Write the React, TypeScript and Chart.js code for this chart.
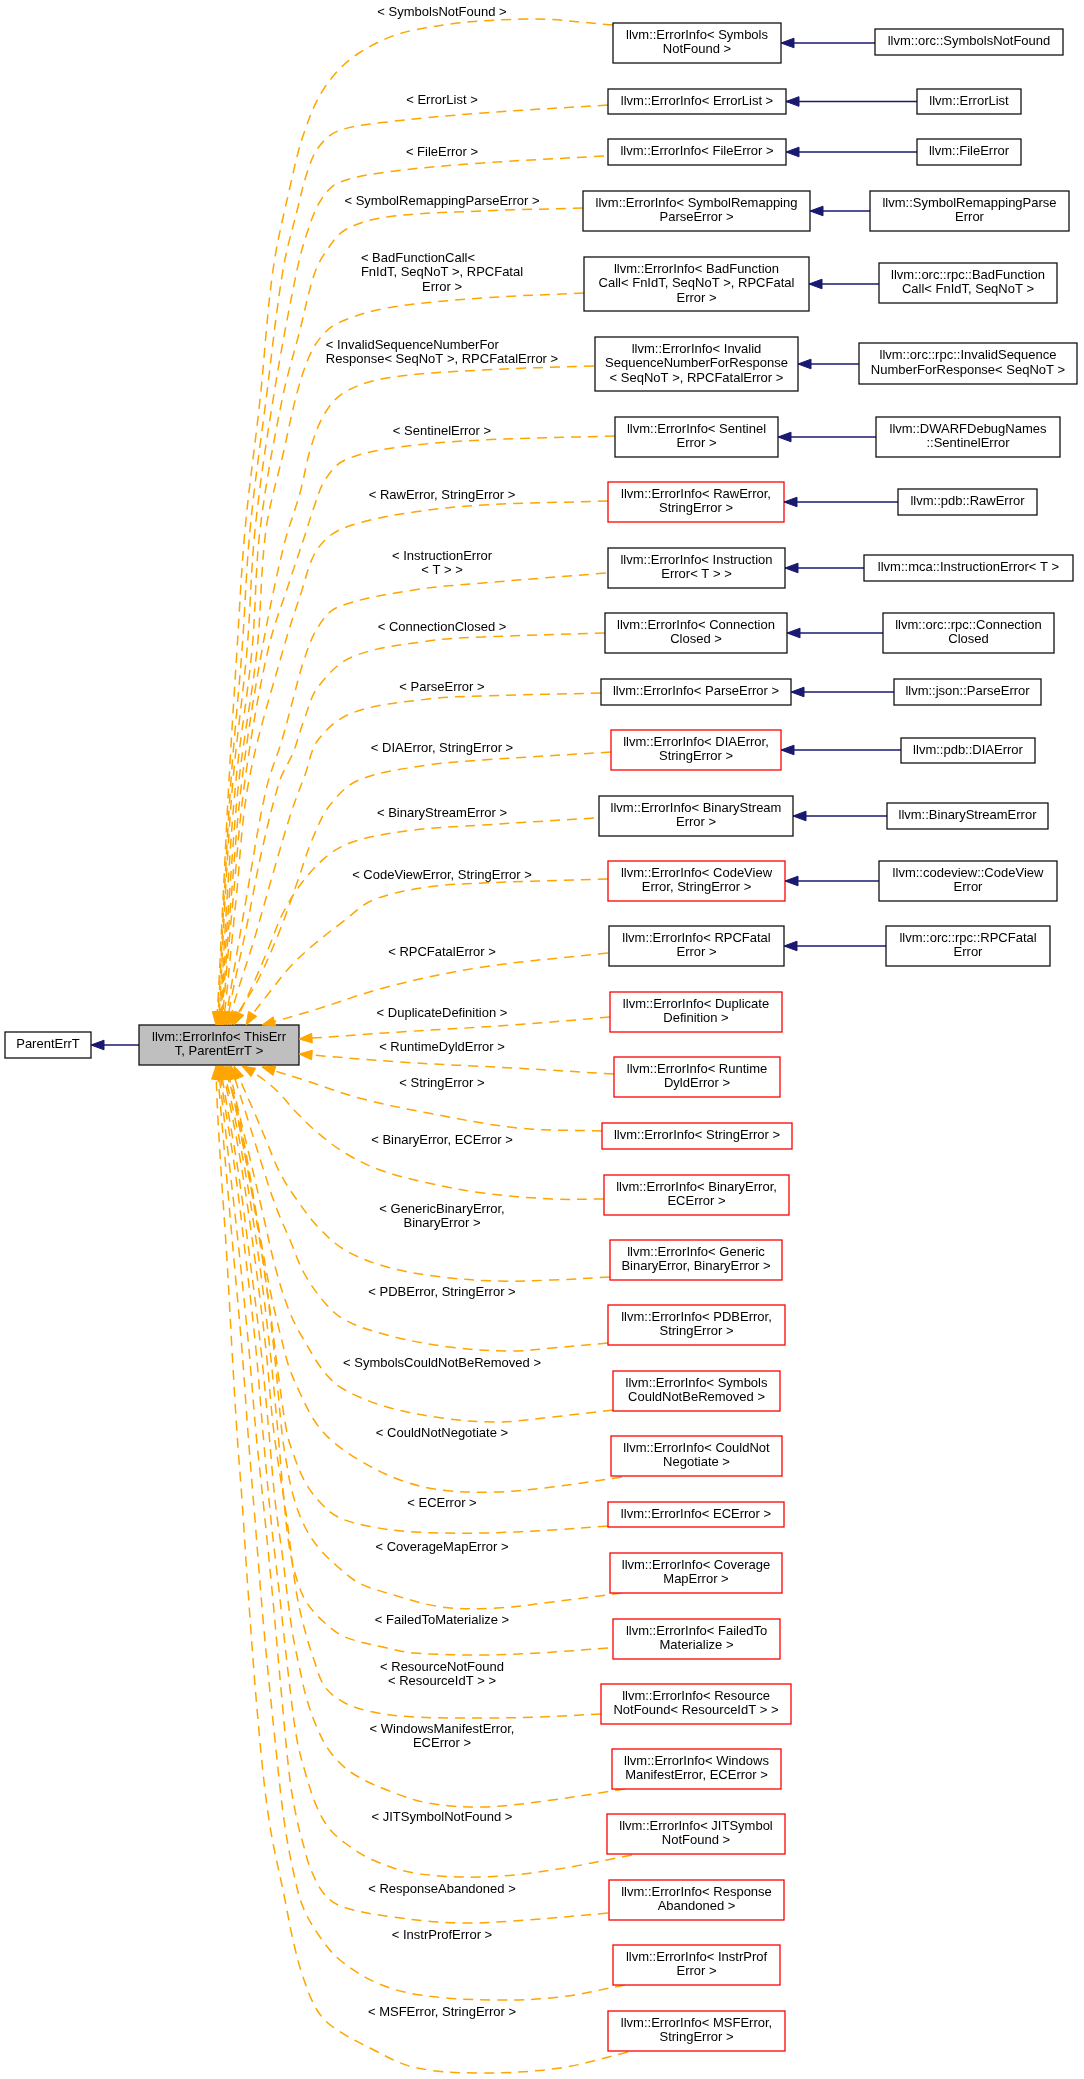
import React, { useEffect, useRef } from "react";
import { Chart, registerables } from "chart.js";

Chart.register(...registerables);

// ---- Diagram content (doxygen inheritance graph) ----
const centerText: string[] = ["llvm::ErrorInfo< ThisErr", "T, ParentErrT >"];
const centerRect: number[] = [139, 1025, 299, 1065];
const parentText: string[] = ["ParentErrT"];
const parentRect: number[] = [5, 1032, 91, 1058];

const middleText: string[][] = [
  ["llvm::ErrorInfo< Symbols", "NotFound >"],
  ["llvm::ErrorInfo< ErrorList >"],
  ["llvm::ErrorInfo< FileError >"],
  ["llvm::ErrorInfo< SymbolRemapping", "ParseError >"],
  ["llvm::ErrorInfo< BadFunction", "Call< FnIdT, SeqNoT >, RPCFatal", "Error >"],
  ["llvm::ErrorInfo< Invalid", "SequenceNumberForResponse", "< SeqNoT >, RPCFatalError >"],
  ["llvm::ErrorInfo< Sentinel", "Error >"],
  ["llvm::ErrorInfo< RawError,", "StringError >"],
  ["llvm::ErrorInfo< Instruction", "Error< T > >"],
  ["llvm::ErrorInfo< Connection", "Closed >"],
  ["llvm::ErrorInfo< ParseError >"],
  ["llvm::ErrorInfo< DIAError,", "StringError >"],
  ["llvm::ErrorInfo< BinaryStream", "Error >"],
  ["llvm::ErrorInfo< CodeView", "Error, StringError >"],
  ["llvm::ErrorInfo< RPCFatal", "Error >"],
  ["llvm::ErrorInfo< Duplicate", "Definition >"],
  ["llvm::ErrorInfo< Runtime", "DyldError >"],
  ["llvm::ErrorInfo< StringError >"],
  ["llvm::ErrorInfo< BinaryError,", "ECError >"],
  ["llvm::ErrorInfo< Generic", "BinaryError, BinaryError >"],
  ["llvm::ErrorInfo< PDBError,", "StringError >"],
  ["llvm::ErrorInfo< Symbols", "CouldNotBeRemoved >"],
  ["llvm::ErrorInfo< CouldNot", "Negotiate >"],
  ["llvm::ErrorInfo< ECError >"],
  ["llvm::ErrorInfo< Coverage", "MapError >"],
  ["llvm::ErrorInfo< FailedTo", "Materialize >"],
  ["llvm::ErrorInfo< Resource", "NotFound< ResourceIdT > >"],
  ["llvm::ErrorInfo< Windows", "ManifestError, ECError >"],
  ["llvm::ErrorInfo< JITSymbol", "NotFound >"],
  ["llvm::ErrorInfo< Response", "Abandoned >"],
  ["llvm::ErrorInfo< InstrProf", "Error >"],
  ["llvm::ErrorInfo< MSFError,", "StringError >"],
];

const middleRect: number[][] = [
  [613, 23, 781, 63],
  [608, 89, 786, 114],
  [608, 139, 786, 165],
  [583, 191, 810, 231],
  [584, 257, 809, 311],
  [595, 337, 798, 391],
  [615, 417, 778, 457],
  [608, 482, 784, 522],
  [608, 548, 785, 588],
  [605, 613, 787, 653],
  [601, 679, 791, 705],
  [611, 730, 781, 770],
  [599, 796, 793, 836],
  [608, 861, 785, 901],
  [609, 926, 784, 966],
  [610, 992, 782, 1032],
  [614, 1057, 780, 1097],
  [602, 1123, 792, 1149],
  [604, 1175, 789, 1215],
  [610, 1240, 782, 1280],
  [608, 1305, 785, 1345],
  [613, 1371, 780, 1411],
  [611, 1436, 782, 1476],
  [608, 1502, 784, 1527],
  [610, 1553, 782, 1593],
  [613, 1619, 780, 1659],
  [601, 1684, 791, 1724],
  [612, 1749, 781, 1789],
  [607, 1814, 785, 1854],
  [609, 1880, 784, 1920],
  [613, 1945, 780, 1985],
  [608, 2011, 785, 2051],
];

const middleRed: boolean[] = [
  false, false, false, false, false, false, false, true, false, false, false, true,
  false, true, false, true, true, true, true, true, true, true, true, true, true,
  true, true, true, true, true, true, true,
];

const edgeLabel: string[][] = [
  ["< SymbolsNotFound >"],
  ["< ErrorList >"],
  ["< FileError >"],
  ["< SymbolRemappingParseError >"],
  ["< BadFunctionCall<", "FnIdT, SeqNoT >, RPCFatal", "Error >"],
  ["< InvalidSequenceNumberFor", "Response< SeqNoT >, RPCFatalError >"],
  ["< SentinelError >"],
  ["< RawError, StringError >"],
  ["< InstructionError", "< T > >"],
  ["< ConnectionClosed >"],
  ["< ParseError >"],
  ["< DIAError, StringError >"],
  ["< BinaryStreamError >"],
  ["< CodeViewError, StringError >"],
  ["< RPCFatalError >"],
  ["< DuplicateDefinition >"],
  ["< RuntimeDyldError >"],
  ["< StringError >"],
  ["< BinaryError, ECError >"],
  ["< GenericBinaryError,", "BinaryError >"],
  ["< PDBError, StringError >"],
  ["< SymbolsCouldNotBeRemoved >"],
  ["< CouldNotNegotiate >"],
  ["< ECError >"],
  ["< CoverageMapError >"],
  ["< FailedToMaterialize >"],
  ["< ResourceNotFound", "< ResourceIdT > >"],
  ["< WindowsManifestError,", "ECError >"],
  ["< JITSymbolNotFound >"],
  ["< ResponseAbandoned >"],
  ["< InstrProfError >"],
  ["< MSFError, StringError >"],
];

const labelPos: number[][] = [
  [442, 12], [442, 100], [442, 152], [442, 201], [442, 258], [442, 345], [442, 431],
  [442, 495], [442, 556], [442, 627], [442, 687], [442, 748], [442, 813], [442, 875],
  [442, 952], [442, 1013], [442, 1047], [442, 1083], [442, 1140], [442, 1209], [442, 1292],
  [442, 1363], [442, 1433], [442, 1503], [442, 1547], [442, 1620], [442, 1667], [442, 1729],
  [442, 1817], [442, 1889], [442, 1935], [442, 2012],
];
const labelFirstLeft: number[] = [4, 5];

const rightText: string[][] = [
  ["llvm::orc::SymbolsNotFound"],
  ["llvm::ErrorList"],
  ["llvm::FileError"],
  ["llvm::SymbolRemappingParse", "Error"],
  ["llvm::orc::rpc::BadFunction", "Call< FnIdT, SeqNoT >"],
  ["llvm::orc::rpc::InvalidSequence", "NumberForResponse< SeqNoT >"],
  ["llvm::DWARFDebugNames", "::SentinelError"],
  ["llvm::pdb::RawError"],
  ["llvm::mca::InstructionError< T >"],
  ["llvm::orc::rpc::Connection", "Closed"],
  ["llvm::json::ParseError"],
  ["llvm::pdb::DIAError"],
  ["llvm::BinaryStreamError"],
  ["llvm::codeview::CodeView", "Error"],
  ["llvm::orc::rpc::RPCFatal", "Error"],
];

const rightRect: number[][] = [
  [875, 29, 1063, 55],
  [917, 89, 1021, 114],
  [917, 139, 1021, 165],
  [870, 191, 1069, 231],
  [879, 263, 1057, 303],
  [859, 343, 1077, 384],
  [876, 417, 1060, 457],
  [898, 489, 1037, 515],
  [864, 555, 1073, 581],
  [883, 613, 1054, 653],
  [894, 679, 1041, 705],
  [901, 738, 1035, 763],
  [887, 803, 1048, 829],
  [879, 861, 1057, 901],
  [886, 926, 1050, 966],
];

// waypoints of the dashed inheritance edges (box -> central node)
const edgePaths: number[][][] = [
  [[613,25],[525,19],[414,30],[359,53],[325,87],[304,133],[290,187],[273,270],[260,400],[245,530],[237,650],[229,780],[223,900],[218,1000],[216,1025]],
  [[608,105],[483,113],[387,122],[338,131],[318,148],[307,173],[298,207],[283,270],[266,400],[250,530],[242,650],[231,780],[224,900],[219,1000],[217,1025]],
  [[604,156],[483,163],[387,172],[338,183],[321,200],[309,227],[297,270],[273,400],[255,530],[247,650],[233,780],[225,900],[220,1000],[218,1025]],
  [[583,208],[483,211],[387,217],[345,230],[325,253],[314,275],[300,330],[282,400],[260,530],[252,650],[236,780],[227,900],[221,1000],[219,1025]],
  [[584,293],[483,298],[387,308],[338,323],[321,337],[309,357],[297,393],[284,450],[266,530],[257,650],[239,780],[229,900],[222,1000],[220,1025]],
  [[594,366],[483,370],[387,378],[345,392],[325,413],[311,447],[300,493],[284,545],[262,650],[242,780],[231,900],[223,1000],[221,1025]],
  [[615,436],[483,440],[400,447],[345,460],[325,480],[314,507],[305,535],[290,580],[268,650],[245,780],[233,900],[224,1000],[222,1025]],
  [[608,501],[483,505],[414,512],[359,523],[331,535],[314,555],[302,590],[283,650],[249,780],[236,900],[226,1000],[223,1025]],
  [[606,573],[483,583],[414,590],[338,607],[318,627],[304,660],[291,707],[282,740],[266,790],[246,900],[229,1000],[225,1025]],
  [[605,633],[483,637],[428,641],[352,657],[318,687],[304,720],[293,753],[280,780],[262,850],[248,920],[231,1000],[227,1025]],
  [[601,693],[483,696],[428,699],[352,713],[318,740],[305,775],[292,810],[274,870],[254,940],[235,1000],[229,1025]],
  [[611,752],[483,760],[428,765],[359,780],[330,805],[312,840],[298,880],[280,930],[258,980],[240,1010],[231,1025]],
  [[594,818],[483,825],[414,830],[359,840],[331,853],[304,880],[283,913],[269,947],[255,980],[242,1008],[234,1025]],
  [[608,879],[483,883],[428,887],[373,900],[345,920],[311,947],[290,967],[269,993],[252,1015],[246,1025]],
  [[608,953],[483,967],[387,987],[311,1011],[262,1025]],
  [[610,1017],[513,1025],[400,1032],[299,1039]],
  [[614,1074],[513,1068],[400,1062],[299,1054]],
  [[602,1131],[518,1128],[428,1113],[359,1098],[304,1080],[262,1067]],
  [[604,1199],[552,1199],[483,1193],[428,1183],[380,1170],[345,1153],[318,1133],[297,1113],[276,1090],[256,1074],[242,1066]],
  [[610,1277],[552,1280],[497,1281],[442,1277],[387,1267],[345,1250],[318,1227],[297,1200],[280,1173],[266,1140],[252,1107],[240,1080],[234,1066]],
  [[608,1343],[552,1348],[511,1351],[449,1347],[387,1335],[345,1320],[325,1303],[304,1273],[290,1240],[276,1207],[262,1165],[248,1120],[236,1082],[231,1066]],
  [[613,1410],[552,1417],[497,1422],[442,1418],[387,1407],[345,1390],[325,1373],[304,1340],[290,1313],[276,1270],[262,1210],[248,1150],[236,1100],[229,1066]],
  [[622,1477],[552,1487],[497,1492],[442,1490],[400,1480],[359,1460],[331,1440],[314,1420],[300,1393],[289,1367],[280,1333],[270,1290],[259,1230],[246,1160],[234,1100],[227,1066]],
  [[608,1526],[552,1530],[483,1533],[414,1532],[373,1527],[338,1517],[318,1500],[304,1480],[293,1453],[287,1433],[279,1380],[270,1310],[258,1230],[246,1160],[234,1100],[225,1066]],
  [[622,1593],[552,1602],[497,1608],[442,1607],[387,1593],[359,1583],[338,1567],[318,1547],[304,1525],[293,1495],[286,1460],[282,1433],[274,1350],[263,1260],[249,1170],[235,1100],[223,1066]],
  [[608,1648],[539,1653],[483,1655],[414,1653],[387,1648],[345,1637],[325,1623],[307,1603],[297,1580],[289,1545],[283,1490],[278,1433],[270,1350],[259,1260],[245,1170],[231,1100],[222,1066]],
  [[601,1714],[539,1717],[483,1718],[414,1717],[373,1712],[345,1703],[325,1687],[314,1660],[304,1627],[296,1590],[287,1520],[274,1433],[266,1350],[255,1260],[242,1170],[229,1100],[221,1066]],
  [[625,1789],[552,1800],[483,1807],[428,1803],[387,1790],[352,1773],[331,1753],[318,1730],[307,1700],[300,1670],[292,1630],[283,1560],[275,1500],[269,1433],[261,1350],[250,1260],[238,1170],[226,1100],[220,1066]],
  [[632,1855],[552,1870],[483,1877],[414,1873],[373,1860],[345,1843],[328,1827],[316,1805],[306,1775],[297,1740],[289,1680],[279,1590],[271,1520],[263,1433],[256,1350],[246,1260],[235,1170],[224,1100],[219,1066]],
  [[608,1913],[527,1920],[460,1923],[393,1917],[343,1907],[325,1895],[311,1870],[304,1847],[297,1820],[290,1780],[282,1700],[272,1590],[263,1500],[256,1433],[249,1350],[240,1260],[230,1170],[222,1100],[218,1066]],
  [[625,1985],[560,1997],[493,2000],[420,1995],[377,1983],[340,1960],[320,1937],[303,1907],[293,1870],[284,1820],[275,1740],[264,1630],[255,1520],[248,1433],[242,1350],[234,1260],[226,1170],[220,1100],[217,1066]],
  [[628,2052],[560,2068],[477,2073],[413,2067],[370,2048],[333,2027],[317,2010],[303,1977],[293,1940],[285,1900],[269,1820],[258,1720],[248,1590],[242,1500],[237,1433],[232,1350],[227,1260],[221,1170],[217,1100],[216,1066]],
];

const FONT = '13px "Liberation Sans", Arial, Helvetica, sans-serif';
const ORANGE = "#ffa500";
const NAVY = "#191970";
const LINE_H = 14.5;

export default function App() {
  const ref = useRef<HTMLCanvasElement | null>(null);

  useEffect(() => {
    const canvas = ref.current;
    if (!canvas) return;

    const datasets: any[] = [];
    edgePaths.forEach((p) => {
      datasets.push({
        data: p.map(([x, y]) => ({ x, y })),
        showLine: true,
        borderColor: ORANGE,
        borderWidth: 1.5,
        borderDash: [10, 7],
        pointRadius: 0,
        tension: 0.35,
        fill: false,
        clip: false,
        arrowColor: ORANGE,
      });
    });
    rightRect.forEach((r, i) => {
      const m = middleRect[i];
      const y = (m[1] + m[3]) / 2;
      datasets.push({
        data: [{ x: r[0], y }, { x: m[2], y }],
        showLine: true,
        borderColor: NAVY,
        borderWidth: 1.4,
        pointRadius: 0,
        tension: 0,
        fill: false,
        clip: false,
        arrowColor: NAVY,
      });
    });
    {
      const y = (centerRect[1] + centerRect[3]) / 2;
      datasets.push({
        data: [{ x: centerRect[0], y }, { x: parentRect[2], y }],
        showLine: true,
        borderColor: NAVY,
        borderWidth: 1.4,
        pointRadius: 0,
        tension: 0,
        fill: false,
        clip: false,
        arrowColor: NAVY,
      });
    }

    const diagram = {
      id: "diagram",
      afterDatasetsDraw(chart: any) {
        const ctx = chart.ctx as CanvasRenderingContext2D;
        const sx = chart.scales.x;
        const sy = chart.scales.y;
        const px = (v: number) => sx.getPixelForValue(v);
        const py = (v: number) => sy.getPixelForValue(v);
        ctx.save();
        ctx.font = FONT;
        ctx.textBaseline = "middle";

        const drawBox = (r: number[], lines: string[], stroke: string, fill: string) => {
          const x1 = px(r[0]), y1 = py(r[1]), x2 = px(r[2]), y2 = py(r[3]);
          ctx.fillStyle = fill;
          ctx.fillRect(x1, y1, x2 - x1, y2 - y1);
          ctx.strokeStyle = stroke;
          ctx.lineWidth = 1.3;
          ctx.setLineDash([]);
          ctx.strokeRect(x1, y1, x2 - x1, y2 - y1);
          ctx.fillStyle = "#000";
          ctx.textAlign = "center";
          const cx = (x1 + x2) / 2;
          const cy = (y1 + y2) / 2 - 0.5;
          const n = lines.length;
          lines.forEach((t, k) => {
            ctx.fillText(t, cx, cy + (k - (n - 1) / 2) * LINE_H);
          });
        };

        drawBox(parentRect, parentText, "#111", "#ffffff");
        drawBox(centerRect, centerText, "#111", "#bfbfbf");
        middleRect.forEach((r, i) => drawBox(r, middleText[i], middleRed[i] ? "#ff0000" : "#111", "#ffffff"));
        rightRect.forEach((r, i) => drawBox(r, rightText[i], "#111", "#ffffff"));

        // edge labels
        ctx.fillStyle = "#000";
        edgeLabel.forEach((lines, i) => {
          const cx = px(labelPos[i][0]);
          const y0 = py(labelPos[i][1]);
          const firstLeft = labelFirstLeft.includes(i);
          lines.forEach((t, k) => {
            if (k === 0 && firstLeft && lines.length > 1) {
              const w2 = ctx.measureText(lines[1]).width;
              ctx.textAlign = "left";
              ctx.fillText(t, cx - w2 / 2, y0);
            } else {
              ctx.textAlign = "center";
              ctx.fillText(t, cx, y0 + k * LINE_H);
            }
          });
        });

        // arrowheads
        chart.data.datasets.forEach((ds: any, i: number) => {
          const meta = chart.getDatasetMeta(i);
          const pts = meta.data;
          if (pts.length < 2) return;
          const tip = pts[pts.length - 1];
          const from = pts[pts.length - 2];
          const dx = tip.x - from.x, dy = tip.y - from.y;
          const d = Math.hypot(dx, dy) || 1;
          const ux = dx / d, uy = dy / d;
          const len = 13, half = 4.8;
          const bx = tip.x - ux * len, by = tip.y - uy * len;
          ctx.beginPath();
          ctx.moveTo(tip.x, tip.y);
          ctx.lineTo(bx - uy * half, by + ux * half);
          ctx.lineTo(bx + uy * half, by - ux * half);
          ctx.closePath();
          ctx.fillStyle = ds.arrowColor;
          ctx.strokeStyle = ds.arrowColor;
          ctx.lineWidth = 1;
          ctx.setLineDash([]);
          ctx.fill();
          ctx.stroke();
        });
        ctx.restore();
      },
    };

    const chart = new Chart(canvas, {
      type: "scatter",
      data: { datasets },
      options: {
        animation: false,
        responsive: false,
        maintainAspectRatio: false,
        events: [],
        layout: { padding: 0 },
        plugins: {
          legend: { display: false },
          tooltip: { enabled: false },
          title: { display: false },
        },
        scales: {
          x: { type: "linear", min: 0, max: 1084, display: false },
          y: { type: "linear", min: 0, max: 2079, reverse: true, display: false },
        },
      } as any,
      plugins: [diagram],
    });
    return () => chart.destroy();
  }, []);

  return (
    <div style={{ position: "absolute", left: 0, top: 0, width: 1084, height: 2079, background: "#fff" }}>
      <canvas ref={ref} width={1084} height={2079} style={{ display: "block", width: 1084, height: 2079 }} />
    </div>
  );
}
